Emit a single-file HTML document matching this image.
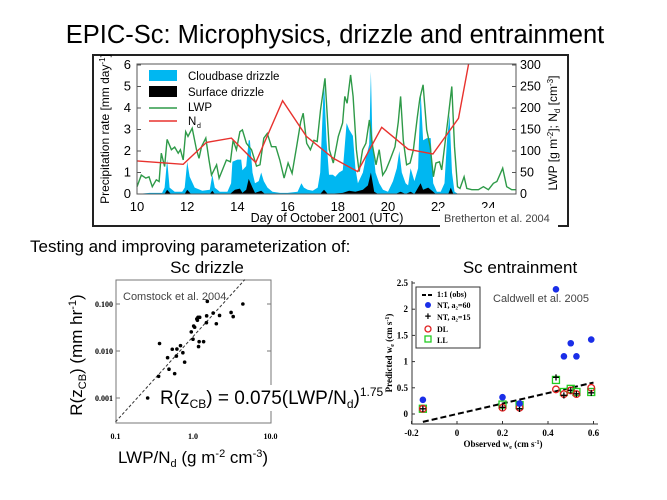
<!DOCTYPE html>
<html><head><meta charset="utf-8"><style>
body{margin:0;background:#fff;}
svg{display:block;font-family:"Liberation Sans",sans-serif;}
</style></head><body>
<svg id="s" width="667" height="500" viewBox="0 0 667 500">
<rect width="667" height="500" fill="#fff"/>
<text x="335" y="43" text-anchor="middle" font-size="25.5">EPIC-Sc: Microphysics, drizzle and entrainment</text>
<rect x="93" y="55" width="475" height="171" fill="none" stroke="#222" stroke-width="2"/>
<g id="top"></g>
<rect x="440" y="208" width="118" height="22" fill="#fff"/>
<text x="444" y="222" font-size="11" fill="#444">Bretherton et al. 2004</text>
<text x="30" y="252" font-size="17">Testing and improving parameterization of:</text>
<text x="207" y="273" text-anchor="middle" font-size="17">Sc drizzle</text>
<text x="520" y="273" text-anchor="middle" font-size="17">Sc entrainment</text>
<g id="bl"></g>
<g id="br"></g>
</svg>
<script>
// ---------- Top chart data ----------
const lwpDays=[10,10.17,10.35,10.48,10.61,10.77,10.88,10.97,11.1,11.2,11.37,11.5,11.64,11.73,11.84,11.94,12.03,12.2,12.37,12.47,12.57,12.74,12.87,12.97,13.17,13.27,13.43,13.56,13.72,13.83,13.96,14.1,14.2,14.36,14.56,14.76,14.9,15.05,15.19,15.36,15.53,15.69,15.86,16.02,16.18,16.36,16.52,16.62,16.76,16.91,17.05,17.18,17.31,17.49,17.66,17.82,18.02,18.19,18.28,18.37,18.51,18.61,18.74,18.85,18.99,19.12,19.26,19.39,19.52,19.65,19.79,19.92,20.08,20.28,20.41,20.5,20.61,20.74,20.88,21.01,21.17,21.27,21.4,21.54,21.68,21.81,21.91,22.05,22.14,22.27,22.41,22.54,22.65,22.77,22.87,23.03,23.14,23.34,23.6,23.8,24,24.2,24.34,24.57,24.73,24.93,25.1];
const lwpVals=[17,44,37,40,17,33,29,95,64,127,103,109,95,103,79,145,134,153,103,83,110,130,79,44,68,37,60,79,75,125,103,145,149,118,103,65,68,130,141,110,110,79,37,72,48,110,168,188,118,103,125,122,195,269,103,72,134,165,227,211,277,227,103,52,103,118,172,110,68,103,44,56,79,110,168,227,125,68,72,103,180,223,254,149,110,40,72,75,56,118,184,250,110,17,13,40,13,10,10,17,10,25,29,60,17,10,10];
const ndDays=[10,11.84,12.77,13.76,14.73,15.8,16.75,17.82,18.79,19.75,20.81,21.79,22.81,23.21];
const ndVals=[77,69,120,130,73,217,134,83,52,155,104,93,176,308];
const cbDays=[10,10.5,11,11.1,11.2,11.3,11.5,11.8,11.9,12,12.1,12.3,12.6,12.9,13,13.1,13.3,13.6,13.75,13.8,14,14.15,14.2,14.35,14.45,14.5,14.6,14.7,14.85,14.95,15.05,15.2,15.4,15.7,16,16.4,16.55,16.65,16.8,17,17.2,17.3,17.45,17.55,17.65,17.8,17.9,18.05,18.2,18.35,18.45,18.6,18.7,18.8,19,19.1,19.25,19.32,19.38,19.5,19.65,19.8,20,20.2,20.35,20.45,20.55,20.7,20.8,20.9,21.05,21.2,21.3,21.4,21.55,21.7,21.8,21.95,22.1,22.25,22.35,22.45,22.55,22.65,22.8,25];
const cbVals=[0,0.05,0.05,0.3,1.6,0.3,0.1,0.1,0.3,1.5,0.8,0.3,0.15,0.2,0.9,0.3,0.1,0.1,0.5,1.5,1.6,1.6,1.1,1.3,2.5,2.5,1,0.5,0.6,1,0.6,0.3,0.1,0.05,0.05,0.1,0.5,0.3,0.2,0.15,0.3,1,5.3,2.5,0.9,0.9,0.8,1,1.1,3.3,3,2.7,1.2,0.5,1,1.6,2.3,5.7,2.5,1,0.5,0.2,0.1,0.6,1.2,2,1,0.5,0.4,1.2,0.6,1.2,4.8,2.5,2.6,2.6,0.5,0.1,0.1,0.5,2.5,3.7,1,0.1,0,0];
const sfDays=[10,11.1,11.2,11.35,11.9,12,12.15,12.9,13,13.1,13.7,13.9,14.1,14.2,14.35,14.45,14.6,14.7,14.95,15.1,17.3,17.45,17.6,18.2,18.45,18.7,19,19.2,19.32,19.45,19.6,20.3,20.5,20.7,20.9,21.05,21.3,21.4,21.6,21.8,21.9,22.4,22.5,22.6,25];
const sfVals=[0,0,0.2,0,0,0.2,0,0,0.15,0,0,0.2,0.25,0.05,0.2,0.7,0.3,0.05,0.15,0,0,0.2,0,0.05,0.15,0.1,0.2,0.4,1,0.1,0,0,0.1,0,0.1,0,0.5,0.2,0.3,0.1,0,0,0.3,0,0];
const topXTicks=[10,12,14,16,18,20,22,24];
const topYTicks=[0,1,2,3,4,5,6];
const topRTicks=[0,50,100,150,200,250,300];

// ---------- Bottom-left data ----------
const ratioVals=[0.26,0.36,0.37,0.47,0.49,0.54,0.58,0.61,0.62,0.69,0.74,0.78,0.95,1.0,1.02,1.05,1.12,1.14,1.16,1.18,1.2,1.22,1.37,1.49,1.53,1.5,1.82,2.0,2.2,3.1,3.3,4.4];
const rainVals=[0.001,0.0029,0.0144,0.0072,0.0041,0.0109,0.0033,0.0078,0.011,0.013,0.0092,0.0058,0.0255,0.0178,0.034,0.032,0.048,0.045,0.052,0.0124,0.0158,0.052,0.0158,0.04,0.114,0.056,0.064,0.038,0.057,0.066,0.054,0.1];
const fitX=[0.1,4.66];
const fitY=[0.00031,0.33];
const blXTicks=[0.1,1,10];
const blXLabels=["0.1","1.0","10.0"];
const blYTicks=[0.001,0.01,0.1];
const blYLabels=["0.001","0.010","0.100"];

// ---------- Bottom-right data ----------
const obsVals=[-0.15,0.2,0.275,0.435,0.47,0.5,0.525,0.59];
const nt60Vals=[0.27,0.32,0.2,2.38,1.1,1.35,1.1,1.42];
const nt15Vals=[0.1,0.12,0.1,0.7,0.35,0.45,0.38,0.4];
const dlVals=[0.1,0.12,0.12,0.47,0.38,0.45,0.38,0.5];
const llVals=[0.1,0.18,0.17,0.65,0.42,0.48,0.42,0.42];
const oneX=[-0.15,0.6];
const oneY=[-0.15,0.6];
const brXTicks=[-0.2,0,0.2,0.4,0.6];
const brXLabels=["-0.2","0","0.2","0.4","0.6"];
const brYTicks=[0,0.5,1,1.5,2,2.5];
const brYLabels=["0","0.5","1","1.5","2","2.5"];

const NS="http://www.w3.org/2000/svg";
function mk(parent,tag,attrs,txt){const e=document.createElementNS(NS,tag);for(const k in attrs)e.setAttribute(k,attrs[k]);if(txt!==undefined)e.textContent=txt;parent.appendChild(e);return e;}

// ===== Top chart =====
(function(){
const g=document.getElementById('top');
const x=d=>137+(d-10)*25.1, y=v=>194-v*21.5, yr=v=>194-v*0.43;
let p='M'+x(cbDays[0])+','+y(0);cbDays.forEach((d,i)=>p+=' L'+x(d).toFixed(1)+','+y(cbVals[i]).toFixed(1));p+=' L'+x(cbDays[cbDays.length-1])+','+y(0)+'Z';
let e=mk(g,'path',{d:p,fill:'#00b7f1'});


p='M'+x(sfDays[0])+','+y(0);sfDays.forEach((d,i)=>p+=' L'+x(d).toFixed(1)+','+y(sfVals[i]).toFixed(1));p+=' L'+x(25)+','+y(0)+'Z';
e=mk(g,'path',{d:p,fill:'#000'});


e=mk(g,'polyline',{points:lwpDays.map((d,i)=>x(d).toFixed(1)+','+yr(lwpVals[i]).toFixed(1)).join(' '),fill:'none',stroke:'#2e9a48','stroke-width':1.4});


e=mk(g,'polyline',{points:ndDays.map((d,i)=>x(d).toFixed(1)+','+Math.max(yr(ndVals[i]),64).toFixed(1)).join(' '),fill:'none',stroke:'#e8322e','stroke-width':1.4});


e=mk(g,'rect',{x:137,y:64,width:379,height:130,fill:'none',stroke:'#555','stroke-width':1});


topXTicks.forEach(t=>{e=mk(g,'text',{x:x(t),y:211,'text-anchor':'middle','font-size':13},String(t));

});
topYTicks.forEach(t=>{e=mk(g,'text',{x:131,y:y(t)+4,'text-anchor':'end','font-size':13},String(t));


mk(g,'line',{x1:137,x2:141,y1:y(t),y2:y(t),stroke:'#555'});});
topRTicks.forEach(t=>{e=mk(g,'text',{x:520,y:yr(t)+4,'font-size':12.5},String(t));


mk(g,'line',{x1:512,x2:516,y1:yr(t),y2:yr(t),stroke:'#555'});});
e=mk(g,'text',{x:327,y:222,'text-anchor':'middle','font-size':12.5},'Day of October 2001 (UTC)');


e=mk(g,'text',{transform:'translate(109,129) rotate(-90)','text-anchor':'middle','font-size':12},'Precipitation rate [mm day');


mk(e,'tspan',{'font-size':8,dy:-4},'-1');mk(e,'tspan',{dy:4},']');
e=mk(g,'text',{transform:'translate(557,133) rotate(-90)','text-anchor':'middle','font-size':12},'LWP [g m');


mk(e,'tspan',{'font-size':8,dy:-4},'-2');mk(e,'tspan',{dy:4},']; N');mk(e,'tspan',{'font-size':8,dy:3},'d');mk(e,'tspan',{dy:-3},' [cm');mk(e,'tspan',{'font-size':8,dy:-4},'-3');mk(e,'tspan',{dy:4},']');
const lg=mk(g,'g',{});


mk(lg,'rect',{x:149,y:70,width:28,height:11,fill:'#00b7f1'});
mk(lg,'rect',{x:149,y:86,width:28,height:11,fill:'#000'});
mk(lg,'line',{x1:149,x2:177,y1:108,y2:108,stroke:'#2e9a48','stroke-width':1.4});
mk(lg,'line',{x1:149,x2:177,y1:121,y2:121,stroke:'#e8322e','stroke-width':1.4});
[['Cloudbase drizzle',80],['Surface drizzle',96],['LWP',111],['N',125]].forEach(a=>{e=mk(lg,'text',{x:188,y:a[1],'font-size':11.5},a[0]);

});
mk(lg,'text',{x:197,y:128,'font-size':7},'d');
})();

// ===== Bottom-left chart =====
(function(){
const g=document.getElementById('bl');
const x=v=>193+Math.log10(v)*77.5, y=v=>304-(Math.log10(v)+1)*47;
let e=mk(g,'rect',{x:116,y:280,width:155,height:143,fill:'none',stroke:'#777'});


e=mk(g,'line',{x1:x(fitX[0]),y1:y(fitY[0]),x2:x(fitX[1]),y2:y(fitY[1]),stroke:'#333','stroke-dasharray':'3,2'});


ratioVals.forEach((r,i)=>{e=mk(g,'circle',{cx:x(r),cy:y(rainVals[i]),r:1.8,fill:'#000'});

});
blXTicks.forEach((t,i)=>{e=mk(g,'text',{x:x(t),y:439,'text-anchor':'middle','font-size':8,'font-weight':'bold','font-family':'Liberation Serif,serif'},blXLabels[i]);

});
blYTicks.forEach((t,i)=>{e=mk(g,'text',{x:113,y:y(t)+3,'text-anchor':'end','font-size':8,'font-weight':'bold','font-family':'Liberation Serif,serif'},blYLabels[i]);


mk(g,'line',{x1:116,x2:120,y1:y(t),y2:y(t),stroke:'#777'});mk(g,'line',{x1:267,x2:271,y1:y(t),y2:y(t),stroke:'#777'});});
e=mk(g,'text',{x:123,y:300,'font-size':11,fill:'#444'},'Comstock et al. 2004');


e=mk(g,'rect',{x:158,y:385,width:200,height:26,fill:'#fff'});
e=mk(g,'text',{x:160,y:404,'font-size':19},'R(z');


mk(e,'tspan',{'font-size':12,dy:4},'CB');mk(e,'tspan',{dy:-4},') = 0.075(LWP/N');mk(e,'tspan',{'font-size':12,dy:4},'d');mk(e,'tspan',{dy:-4},')');mk(e,'tspan',{'font-size':12,dy:-8},'1.75');
e=mk(g,'text',{x:193,y:463,'text-anchor':'middle','font-size':17},'LWP/N');


mk(e,'tspan',{'font-size':11,dy:4},'d');mk(e,'tspan',{dy:-4},' (g m');mk(e,'tspan',{'font-size':11,dy:-6},'-2');mk(e,'tspan',{dy:6},' cm');mk(e,'tspan',{'font-size':11,dy:-6},'-3');mk(e,'tspan',{dy:6},')');
e=mk(g,'text',{transform:'translate(82,355) rotate(-90)','text-anchor':'middle','font-size':17},'R(z');


mk(e,'tspan',{'font-size':11,dy:4},'CB');mk(e,'tspan',{dy:-4},') (mm hr');mk(e,'tspan',{'font-size':11,dy:-6},'-1');mk(e,'tspan',{dy:6},')');
})();

// ===== Bottom-right chart =====
(function(){
const g=document.getElementById('br');
const x=v=>457+v*227.5, y=v=>414-v*52.4;
let e=mk(g,'path',{d:'M412,281 V424 H598',fill:'none',stroke:'#333'});


brXTicks.forEach((t,i)=>{e=mk(g,'text',{x:x(t),y:436,'text-anchor':'middle','font-size':9,'font-weight':'bold','font-family':'Liberation Serif,serif'},brXLabels[i]);


mk(g,'line',{x1:x(t),x2:x(t),y1:424,y2:421,stroke:'#333'});});
brYTicks.forEach((t,i)=>{e=mk(g,'text',{x:408,y:y(t)+3,'text-anchor':'end','font-size':9,'font-weight':'bold','font-family':'Liberation Serif,serif'},brYLabels[i]);


mk(g,'line',{x1:412,x2:415,y1:y(t),y2:y(t),stroke:'#333'});});
e=mk(g,'line',{x1:x(oneX[0]),y1:y(oneY[0]),x2:x(oneX[1]),y2:y(oneY[1]),stroke:'#000','stroke-width':2,'stroke-dasharray':'6,3'});


obsVals.forEach((o,i)=>{
e=mk(g,'rect',{x:x(o)-3.5,y:y(llVals[i])-3.5,width:7,height:7,fill:'none',stroke:'#22cc22','stroke-width':1.3});


e=mk(g,'circle',{cx:x(o),cy:y(dlVals[i]),r:3.3,fill:'none',stroke:'#e02020','stroke-width':1.3});


e=mk(g,'text',{x:x(o),y:y(nt15Vals[i])+4,'text-anchor':'middle','font-size':12,'font-weight':'bold'},'+');


e=mk(g,'circle',{cx:x(o),cy:y(nt60Vals[i]),r:3.3,fill:'#1a2ee8'});


});
const lg=mk(g,'g',{});


mk(lg,'rect',{x:416,y:287,width:64,height:61,fill:'#fff',stroke:'#333'});
mk(lg,'line',{x1:422,x2:434,y1:295,y2:295,stroke:'#000','stroke-width':2,'stroke-dasharray':'4,2'});
mk(lg,'circle',{cx:428,cy:305,r:3,fill:'#1a2ee8'});
mk(lg,'text',{x:428,y:320,'text-anchor':'middle','font-size':11,'font-weight':'bold'},'+');
mk(lg,'circle',{cx:428,cy:329,r:3,fill:'none',stroke:'#e02020','stroke-width':1.3});
mk(lg,'rect',{x:425,y:336,width:6,height:6,fill:'none',stroke:'#22cc22','stroke-width':1.3});
[['1:1 (obs)',297],['NT, a₂=60',308],['NT, a₂=15',320],['DL',332],['LL',343]].forEach(a=>{e=mk(lg,'text',{x:437,y:a[1],'font-size':8,'font-weight':'bold','font-family':'Liberation Serif,serif'},a[0]);

});
e=mk(g,'text',{x:493,y:302,'font-size':11,fill:'#444'},'Caldwell et al. 2005');


e=mk(g,'text',{x:503,y:447,'text-anchor':'middle','font-size':9,'font-weight':'bold','font-family':'Liberation Serif,serif'},'Observed w');


mk(e,'tspan',{'font-size':6,dy:2},'e');mk(e,'tspan',{dy:-2},' (cm s');mk(e,'tspan',{'font-size':6,dy:-3},'-1');mk(e,'tspan',{dy:3},')');
e=mk(g,'text',{transform:'translate(392,353) rotate(-90)','text-anchor':'middle','font-size':9,'font-weight':'bold','font-family':'Liberation Serif,serif'},'Predicted w');


mk(e,'tspan',{'font-size':6,dy:2},'e');mk(e,'tspan',{dy:-2},' (cm s');mk(e,'tspan',{'font-size':6,dy:-3},'-1');mk(e,'tspan',{dy:3},')');
})();
</script>
</body></html>
